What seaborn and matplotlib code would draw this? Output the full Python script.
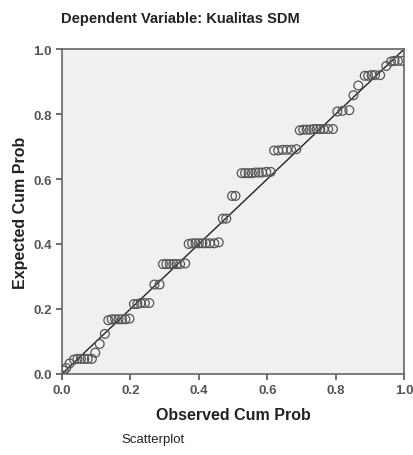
import matplotlib
matplotlib.use('Agg')
import matplotlib.pyplot as plt
import seaborn as sns
import pandas as pd

# Normal P-P plot, regression standardized residual
observed = [0.005, 0.012, 0.022, 0.035, 0.045, 0.055, 0.065, 0.075, 0.087,
            0.097, 0.110, 0.125,
            0.135, 0.145, 0.155, 0.165, 0.175, 0.185, 0.197,
            0.210, 0.220, 0.230, 0.242, 0.255,
            0.270, 0.285,
            0.295, 0.305, 0.315, 0.325, 0.335, 0.345, 0.360,
            0.370, 0.380, 0.390, 0.400, 0.410, 0.420, 0.432, 0.445, 0.458,
            0.470, 0.480, 0.497, 0.507,
            0.525, 0.535, 0.545, 0.555, 0.565, 0.575, 0.585, 0.597, 0.610,
            0.620, 0.632, 0.645, 0.657, 0.670, 0.685,
            0.695, 0.705, 0.715, 0.725, 0.735, 0.745, 0.755, 0.765, 0.778, 0.792,
            0.805, 0.820, 0.840, 0.852, 0.866,
            0.885, 0.895, 0.905, 0.915, 0.930, 0.948,
            0.962, 0.972, 0.982, 0.995]
expected = [0.010, 0.018, 0.032, 0.044, 0.046, 0.046, 0.046, 0.046, 0.046,
            0.065, 0.092, 0.123,
            0.165, 0.168, 0.168, 0.168, 0.168, 0.168, 0.170,
            0.215, 0.215, 0.218, 0.218, 0.218,
            0.275, 0.275,
            0.338, 0.338, 0.338, 0.338, 0.338, 0.338, 0.340,
            0.400, 0.402, 0.402, 0.402, 0.402, 0.402, 0.402, 0.402, 0.405,
            0.478, 0.478, 0.548, 0.548,
            0.618, 0.618, 0.618, 0.618, 0.620, 0.620, 0.620, 0.622, 0.622,
            0.688, 0.688, 0.690, 0.690, 0.690, 0.692,
            0.750, 0.752, 0.752, 0.752, 0.754, 0.754, 0.754, 0.754, 0.754, 0.754,
            0.808, 0.810, 0.812, 0.858, 0.888,
            0.918, 0.918, 0.920, 0.920, 0.920, 0.948,
            0.962, 0.964, 0.964, 0.964]

ticks = [0.0, 0.2, 0.4, 0.6, 0.8, 1.0]
tick_labels = ['0.0', '0.2', '0.4', '0.6', '0.8', '1.0']

df = pd.DataFrame({'Observed Cum Prob': observed, 'Expected Cum Prob': expected})

sns.set_style('ticks')
plt.rcParams['font.family'] = ['Liberation Sans', 'DejaVu Sans']

fig = plt.figure(figsize=(4.14, 4.56), dpi=100)
ax = fig.add_axes([0.150, 0.178, 0.826, 0.712])
ax.set_facecolor('#f0f0f0')

ax.plot([0, 1], [0, 1], color='#222222', lw=1.0, zorder=2)
sns.scatterplot(data=df, x='Observed Cum Prob', y='Expected Cum Prob', ax=ax,
                marker='o', s=40, facecolor='none', edgecolor='#555555',
                linewidth=0.9, zorder=3)

ax.set_xlim(0, 1)
ax.set_ylim(0, 1)
ax.set_xticks(ticks)
ax.set_xticklabels(tick_labels)
ax.set_yticks(ticks)
ax.set_yticklabels(tick_labels)
ax.tick_params(axis='both', direction='out', length=4, width=1.2,
               colors='#555555', labelsize=9.5, labelcolor='#555555')
for lbl in ax.get_xticklabels() + ax.get_yticklabels():
    lbl.set_fontweight('bold')
for sp in ax.spines.values():
    sp.set_color('#666666')
    sp.set_linewidth(1.2)

ax.set_xlabel('Observed Cum Prob', fontsize=11.5, fontweight='bold', color='#222222', labelpad=8)
ax.set_ylabel('Expected Cum Prob', fontsize=11.5, fontweight='bold', color='#222222', labelpad=4)

fig.text(0.435, 0.958, 'Dependent Variable: Kualitas SDM', ha='center', va='center',
         fontsize=10.5, fontweight='bold', color='#222222')
fig.text(0.37, 0.035, 'Scatterplot', ha='center', va='center',
         fontsize=9.5, color='#222222', family=['Liberation Sans Narrow', 'Liberation Sans'])

fig.savefig('out.png', dpi=100)
